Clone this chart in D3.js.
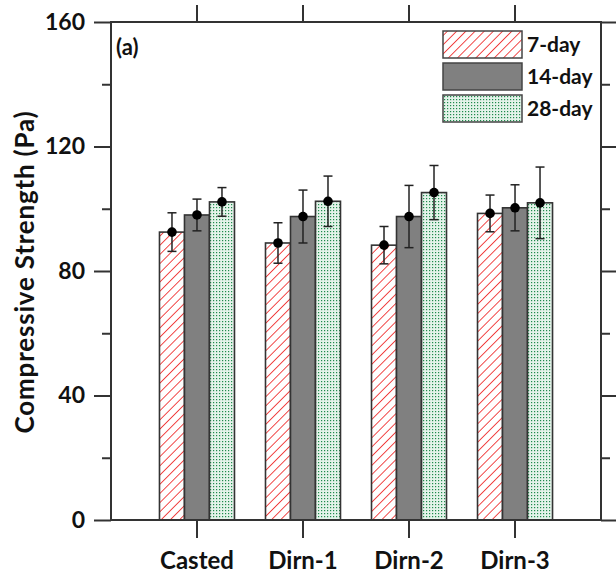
<!DOCTYPE html>
<html lang="en">
<head>
<meta charset="UTF-8">
<title>Compressive Strength</title>
<script src="https://d3js.org/d3.v7.min.js"></script>
<style>
    body { margin: 0; background: #fff; }
    svg text { font-family: Lato, "Open Sans", sans-serif; font-weight: bold; fill: #111; }
</style>
</head>
<body>
<svg id="chart" width="616" height="576"></svg>
<script>
    // data
    const categories = ["Casted", "Dirn-1", "Dirn-2", "Dirn-3"];
    const seriesNames = ["7-day", "14-day", "28-day"];
    const day7 = [92.5, 89.0, 88.3, 98.5];
    const day14 = [98.0, 97.5, 97.5, 100.3];
    const day28 = [102.2, 102.4, 105.2, 101.9];
    const err7 = [6.2, 6.5, 6.0, 5.9];
    const err14 = [5.1, 8.5, 10.0, 7.4];
    const err28 = [4.6, 8.1, 8.7, 11.5];
    const yTicks = [0, 40, 80, 120, 160];
    const yMinor = [20, 60, 100, 140];

    const values = [day7, day14, day28];
    const errors = [err7, err14, err28];

    const svg = d3.select("#chart");
    const plotL = 111, plotR = 601, plotT = 22, plotB = 520;

    const x = d3.scaleBand().domain(categories).range([plotL, plotR]).paddingOuter(0.311).paddingInner(0);
    const xs = d3.scaleBand().domain(seriesNames).range([0, 75]);
    const y = d3.scaleLinear().domain([0, 160]).range([plotB, plotT]);

    // patterns
    const defs = svg.append("defs");
    const hatch = defs.append("pattern").attr("id", "hatch")
        .attr("patternUnits", "userSpaceOnUse").attr("width", 6.5).attr("height", 6.5)
        .attr("patternTransform", "rotate(45)");
    hatch.append("rect").attr("width", 6.5).attr("height", 6.5).attr("fill", "#fff");
    hatch.append("line").attr("x1", 0).attr("y1", 0).attr("x2", 0).attr("y2", 6.5)
        .attr("stroke", "#f03535").attr("stroke-width", 1.8);

    const dots = defs.append("pattern").attr("id", "dots")
        .attr("patternUnits", "userSpaceOnUse").attr("width", 3).attr("height", 3);
    dots.append("rect").attr("width", 3).attr("height", 3).attr("fill", "#e4f3ea");
    dots.append("rect").attr("width", 1.2).attr("height", 1.2).attr("fill", "#1f8a4c");

    const fills = ["url(#hatch)", "#808080", "url(#dots)"];

    // bars
    seriesNames.forEach((s, i) => {
        svg.append("g").selectAll("rect")
            .data(categories)
            .enter().append("rect")
            .attr("x", d => x(d) + x.bandwidth() / 2 - 37.5 + xs(s))
            .attr("y", (d, j) => y(values[i][j]))
            .attr("width", xs.bandwidth())
            .attr("height", (d, j) => y(0) - y(values[i][j]))
            .attr("fill", fills[i])
            .attr("stroke", "#333")
            .attr("stroke-width", 1.6);
    });

    // error bars
    seriesNames.forEach((s, i) => {
        const g = svg.append("g");
        categories.forEach((c, j) => {
            const cx = x(c) + x.bandwidth() / 2 - 37.5 + xs(s) + xs.bandwidth() / 2;
            const v = values[i][j], e = errors[i][j];
            g.append("line").attr("x1", cx).attr("x2", cx)
                .attr("y1", y(v + e)).attr("y2", y(v - e))
                .attr("stroke", "#222").attr("stroke-width", 1.5);
            [v + e, v - e].forEach(t => {
                g.append("line").attr("x1", cx - 4.5).attr("x2", cx + 4.5)
                    .attr("y1", y(t)).attr("y2", y(t))
                    .attr("stroke", "#222").attr("stroke-width", 1.5);
            });
            g.append("circle").attr("cx", cx).attr("cy", y(v)).attr("r", 4.8).attr("fill", "#000");
        });
    });

    // frame
    svg.append("rect").attr("x", plotL).attr("y", plotT)
        .attr("width", plotR - plotL).attr("height", plotB - plotT)
        .attr("fill", "none").attr("stroke", "#333").attr("stroke-width", 2);

    // axes
    const axisY = svg.append("g").attr("transform", `translate(${plotL},0)`)
        .call(d3.axisLeft(y).tickValues(yTicks).tickSize(17).tickPadding(9));
    const axisYm = svg.append("g").attr("transform", `translate(${plotL},0)`)
        .call(d3.axisLeft(y).tickValues(yMinor).tickSize(9).tickFormat(""));
    const axisR = svg.append("g").attr("transform", `translate(${plotR},0)`)
        .call(d3.axisRight(y).tickValues(yTicks).tickSize(17).tickFormat(""));
    const axisRm = svg.append("g").attr("transform", `translate(${plotR},0)`)
        .call(d3.axisRight(y).tickValues(yMinor).tickSize(9).tickFormat(""));
    const axisB = svg.append("g").attr("transform", `translate(0,${plotB})`)
        .call(d3.axisBottom(x).tickSize(18).tickPadding(14));
    const axisT = svg.append("g").attr("transform", `translate(0,${plotT})`)
        .call(d3.axisTop(x).tickSize(17).tickFormat(""));

    [axisY, axisYm, axisR, axisRm, axisB, axisT].forEach(a => {
        a.select(".domain").remove();
        a.selectAll(".tick line").attr("stroke", "#333").attr("stroke-width", 2);
    });
    axisY.selectAll("text").attr("font-size", 23);
    axisB.selectAll("text").attr("font-size", 24);

    // y label
    svg.append("text")
        .attr("transform", "translate(34,272) rotate(-90)")
        .attr("text-anchor", "middle")
        .attr("font-size", 26)
        .attr("letter-spacing", 0.8)
        .text("Compressive Strength (Pa)");

    svg.append("text").attr("x", 116).attr("y", 55).attr("font-size", 22).text("(a)");

    // legend
    const legend = svg.append("g");
    seriesNames.forEach((s, i) => {
        const ly = 31 + i * 32;
        legend.append("rect").attr("x", 443).attr("y", ly).attr("width", 79).attr("height", 27)
            .attr("fill", fills[i]).attr("stroke", "#444").attr("stroke-width", 1.5);
        legend.append("text").attr("x", 527).attr("y", ly + 21).attr("font-size", 21).text(s);
    });
</script>
</body>
</html>
